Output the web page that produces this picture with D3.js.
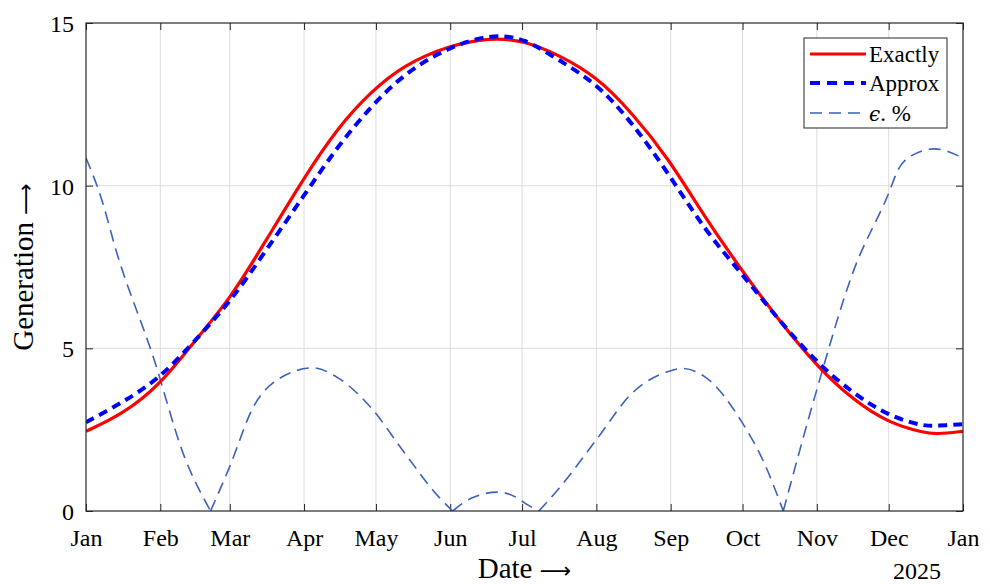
<!DOCTYPE html>
<html>
<head>
<meta charset="utf-8">
<script src="https://cdn.jsdelivr.net/npm/d3@7/dist/d3.min.js"></script>
<style>
  html, body { margin: 0; padding: 0; background: #fff; }
  svg { display: block; }
  text { font-family: "Liberation Serif", "Times New Roman", serif; fill: #000; }
</style>
</head>
<body>
<svg id="chart" width="990" height="584"></svg>
<script>
// ---- data ----
const curveDates = ["2024-01-01","2024-01-16","2024-02-01","2024-02-15","2024-03-01","2024-03-16",
  "2024-04-01","2024-04-15","2024-04-29","2024-05-13","2024-05-31","2024-06-18","2024-07-02",
  "2024-07-16","2024-08-01","2024-08-16","2024-08-31","2024-09-15","2024-10-01","2024-10-16",
  "2024-11-01","2024-11-16","2024-12-01","2024-12-16","2024-12-21","2025-01-01"];
const exactly = [2.45, 2.96, 3.88, 5.20, 6.50, 8.30,
  10.25, 11.78, 12.90, 13.72, 14.30, 14.56, 14.45,
  14.03, 13.36, 12.23, 10.85, 9.06, 7.36, 5.88,
  4.45, 3.42, 2.70, 2.40, 2.36, 2.45];
const approx = [2.73, 3.32, 4.09, 5.20, 6.40, 8.00,
  9.70, 11.21, 12.44, 13.46, 14.25, 14.66, 14.54,
  13.87, 13.16, 11.93, 10.39, 8.65, 7.27, 5.88,
  4.55, 3.63, 2.91, 2.60, 2.62, 2.67];

const errDates = ["2024-01-01","2024-01-07","2024-01-14","2024-01-29","2024-02-11","2024-02-22",
  "2024-03-01","2024-03-11","2024-03-21","2024-04-05","2024-04-15","2024-04-29","2024-05-13",
  "2024-05-27","2024-06-02","2024-06-10","2024-06-21","2024-06-29","2024-07-02","2024-07-08",
  "2024-07-16","2024-08-01","2024-08-16","2024-08-31","2024-09-06","2024-09-15","2024-10-01",
  "2024-10-10","2024-10-18","2024-11-01","2024-11-16","2024-12-01","2024-12-05","2024-12-09",
  "2024-12-20","2025-01-01"];
const errPct = [10.85, 9.70, 7.90, 4.75, 1.68, 0.0,
  1.37, 3.22, 4.04, 4.40, 4.10, 3.17, 1.78,
  0.45, 0.0, 0.40, 0.58, 0.40, 0.25, 0.0,
  0.66, 2.19, 3.63, 4.29, 4.38, 4.14, 2.70,
  1.48, 0.0, 3.73, 7.32, 9.77, 10.50, 10.85,
  11.13, 10.85];

const yTicks = [0, 5, 10, 15];
const monthLabels = ["Jan","Feb","Mar","Apr","May","Jun","Jul","Aug","Sep","Oct","Nov","Dec","Jan"];
const yearLabel = "2025";
const seriesNames = ["Exactly", "Approx", ". %"];
const xTitle = "Date";
const yTitle = "Generation";

// ---- layout ----
const svg = d3.select("#chart");
const L = 86, R = 963, T = 23, B = 511;
const parse = d3.timeParse("%Y-%m-%d");
const x = d3.scaleTime().domain([parse("2024-01-01"), parse("2025-01-01")]).range([L, R]);
const y = d3.scaleLinear().domain([0, 15]).range([B, T]);
const monthTicks = d3.timeMonth.range(parse("2024-01-01"), d3.timeDay.offset(parse("2025-01-01"), 1));

// grid
const grid = svg.append("g");
grid.selectAll("line.gx").data(monthTicks.slice(1, -1)).join("line")
  .attr("x1", d => x(d)).attr("x2", d => x(d)).attr("y1", T).attr("y2", B)
  .attr("stroke", "#dcdcdc").attr("stroke-width", 1);
grid.selectAll("line.gy").data(yTicks.slice(1, -1)).join("line")
  .attr("x1", L).attr("x2", R).attr("y1", d => y(d)).attr("y2", d => y(d))
  .attr("stroke", "#dcdcdc").attr("stroke-width", 1);

// axes via d3 axis, inward ticks
const tickLen = 7;
const xAxis = d3.axisBottom(x).tickValues(monthTicks).tickSize(-tickLen)
  .tickFormat((d, i) => monthLabels[i]).tickPadding(18);
const gx = svg.append("g").attr("transform", `translate(0,${B})`).call(xAxis);
gx.select(".domain").remove();
gx.selectAll("line").attr("stroke", "#262626");
gx.selectAll("text").style("font-family", "Liberation Serif").style("font-size", "24px").attr("fill", "#000");

const xTop = d3.axisTop(x).tickValues(monthTicks).tickSize(-tickLen).tickFormat("");
const gxt = svg.append("g").attr("transform", `translate(0,${T})`).call(xTop);
gxt.select(".domain").remove();
gxt.selectAll("line").attr("stroke", "#262626");

const yAxis = d3.axisLeft(y).tickValues(yTicks).tickSize(-tickLen).tickPadding(12);
const gy = svg.append("g").attr("transform", `translate(${L},0)`).call(yAxis);
gy.select(".domain").remove();
gy.selectAll("line").attr("stroke", "#262626");
gy.selectAll("text").style("font-family", "Liberation Serif").style("font-size", "24px").attr("fill", "#000").attr("dy", "0.36em");

const yRight = d3.axisRight(y).tickValues(yTicks).tickSize(-tickLen).tickFormat("");
const gyr = svg.append("g").attr("transform", `translate(${R},0)`).call(yRight);
gyr.select(".domain").remove();
gyr.selectAll("line").attr("stroke", "#262626");

// lines
svg.append("clipPath").attr("id", "clip").append("rect")
  .attr("x", L).attr("y", T - 2).attr("width", R - L).attr("height", B - T + 2);
const plot = svg.append("g").attr("clip-path", "url(#clip)");

const mk = (dates, vals) => dates.map((d, i) => ({ d: parse(d), v: vals[i] }));
const lineSmooth = d3.line().x(p => x(p.d)).y(p => y(p.v)).curve(d3.curveBasis);
const lineErr = d3.line().x(p => x(p.d)).y(p => y(p.v)).curve(d3.curveMonotoneX);

// split error series at its zero points so the V-shaped minima stay sharp
const errPts = mk(errDates, errPct);
const segments = [];
let cur = [];
errPts.forEach((p, i) => {
  cur.push(p);
  if (p.v === 0 && i > 0 && i < errPts.length - 1) { segments.push(cur); cur = [p]; }
});
segments.push(cur);
plot.append("path").attr("d", segments.map(s => lineErr(s)).join(""))
  .attr("fill", "none").attr("stroke", "#3d62bd").attr("stroke-width", 1.6)
  .attr("stroke-dasharray", "12,7");
plot.append("path").datum(mk(curveDates, exactly)).attr("d", lineSmooth)
  .attr("fill", "none").attr("stroke", "#ff0000").attr("stroke-width", 3.2);
plot.append("path").datum(mk(curveDates, approx)).attr("d", lineSmooth)
  .attr("fill", "none").attr("stroke", "#0000ff").attr("stroke-width", 4)
  .attr("stroke-dasharray", "9,6");

// box
svg.append("rect").attr("x", L).attr("y", T).attr("width", R - L).attr("height", B - T)
  .attr("fill", "none").attr("stroke", "#262626").attr("stroke-width", 1.2);

// titles
const arrowFont = "DejaVu Sans";
const xt = svg.append("text").attr("x", (L + R) / 2).attr("y", 578).attr("text-anchor", "middle")
  .style("font-size", "29px");
xt.append("tspan").text(xTitle + " ");
xt.append("tspan").style("font-family", arrowFont).style("font-size", "22px").text("\u27F6");
const yt = svg.append("text").attr("transform", `translate(33,${(T + B) / 2}) rotate(-90)`)
  .attr("text-anchor", "middle").style("font-size", "29px");
yt.append("tspan").text(yTitle + " ");
yt.append("tspan").style("font-family", arrowFont).style("font-size", "22px").text("\u27F6");
svg.append("text").attr("x", 917).attr("y", 579).attr("text-anchor", "middle")
  .style("font-size", "24px").text(yearLabel);

// legend
const lg = svg.append("g");
lg.append("rect").attr("x", 804).attr("y", 38).attr("width", 143).attr("height", 90)
  .attr("fill", "#fff").attr("stroke", "#262626").attr("stroke-width", 1);
const legendStyles = [
  { stroke: "#ff0000", w: 3.2, dash: null },
  { stroke: "#0000ff", w: 4, dash: "10,7" },
  { stroke: "#3d62bd", w: 1.6, dash: "12,7" }
];
const legendY = [54, 83, 113];
seriesNames.forEach((name, i) => {
  const s = legendStyles[i];
  const ln = lg.append("line").attr("x1", 810).attr("x2", 866)
    .attr("y1", legendY[i]).attr("y2", legendY[i])
    .attr("stroke", s.stroke).attr("stroke-width", s.w);
  if (s.dash) ln.attr("stroke-dasharray", s.dash);
  const t = lg.append("text").attr("x", 869).attr("y", legendY[i] + 8).style("font-size", "23px");
  if (i === 2) {
    t.append("tspan").style("font-family", "DejaVu Serif").style("font-style", "italic")
      .style("font-size", "20px").text("\u03F5");
  }
  t.append("tspan").text(name);
});
</script>
</body>
</html>
